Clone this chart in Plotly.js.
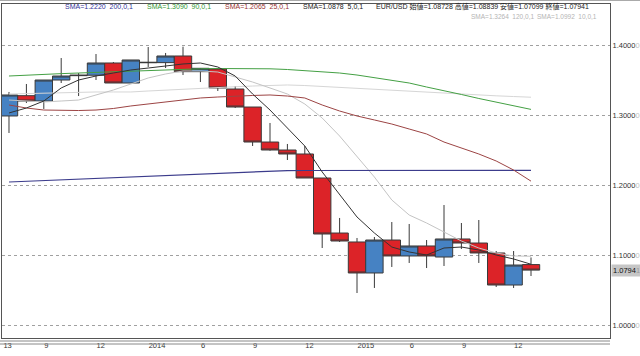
<!DOCTYPE html>
<html><head><meta charset="utf-8">
<script src="https://cdn.plot.ly/plotly-3.0.1.min.js"></script>
<style>html,body{margin:0;padding:0;background:#fff;}#chart{width:640px;height:356px;}</style>
</head><body><div id="chart"></div>
<script>
// Monthly EUR/USD candles (index 0 = 2013-07 ... 30 = 2016-01)
const months = ['2013-07','2013-08','2013-09','2013-10','2013-11','2013-12','2014-01','2014-02','2014-03','2014-04','2014-05','2014-06','2014-07','2014-08','2014-09','2014-10','2014-11','2014-12','2015-01','2015-02','2015-03','2015-04','2015-05','2015-06','2015-07','2015-08','2015-09','2015-10','2015-11','2015-12','2016-01'];
const openP  = [1.2996,1.3286,1.3210,1.3510,1.3572,1.3578,1.3753,1.3467,1.3764,1.3758,1.3853,1.3629,1.3667,1.3381,1.3124,1.2624,1.2510,1.2453,1.2110,1.1324,1.1196,1.0753,1.1224,1.0996,1.1139,1.0981,1.1239,1.1181,1.1039,1.0581,1.0873];
const highP  = [1.3339,1.3453,1.3510,1.3824,1.3610,1.3881,1.3767,1.3796,1.3981,1.3896,1.3986,1.3681,1.3681,1.3424,1.3124,1.2896,1.2596,1.2567,1.2110,1.1539,1.1253,1.1267,1.1481,1.1453,1.1224,1.1724,1.1467,1.1510,1.1067,1.1067,1.0975];
const lowP   = [1.2753,1.3181,1.3096,1.3467,1.3281,1.3510,1.3467,1.3467,1.3696,1.3681,1.3581,1.3481,1.3353,1.3110,1.2567,1.2500,1.2367,1.2110,1.1110,1.1196,1.0467,1.0539,1.0839,1.0896,1.0824,1.0853,1.1096,1.0896,1.0553,1.0539,1.0710];
const closeP = [1.3296,1.3210,1.3510,1.3567,1.3578,1.3753,1.3467,1.3796,1.3758,1.3853,1.3629,1.3677,1.3396,1.3124,1.2624,1.2510,1.2453,1.2110,1.1310,1.1210,1.0753,1.1224,1.0996,1.1139,1.0996,1.1239,1.1181,1.1039,1.0581,1.0867,1.0794];

const sma5   = [1.3039,1.3110,1.3210,1.3396,1.3510,1.3567,1.3610,1.3653,1.3681,1.3710,1.3739,1.3753,1.3696,1.3567,1.3310,1.3081,1.2824,1.2567,1.2196,1.1867,1.1553,1.1324,1.1124,1.1053,1.1010,1.1110,1.1124,1.1081,1.1010,1.0953,1.0878];
const sma10  = [1.3224,1.3210,1.3196,1.3210,1.3224,1.3296,1.3367,1.3453,1.3539,1.3596,1.3639,1.3639,1.3624,1.3553,1.3481,1.3396,1.3310,1.3167,1.2967,1.2710,1.2424,1.2124,1.1796,1.1581,1.1467,1.1339,1.1210,1.1110,1.1039,1.0996,1.0992];
const sma25  = [1.3153,1.3110,1.3081,1.3074,1.3074,1.3081,1.3103,1.3139,1.3167,1.3196,1.3224,1.3253,1.3267,1.3281,1.3289,1.3296,1.3281,1.3253,1.3153,1.3067,1.2996,1.2939,1.2881,1.2810,1.2739,1.2624,1.2539,1.2453,1.2353,1.2224,1.2065];
const sma90  = [1.3567,1.3581,1.3591,1.3601,1.3610,1.3620,1.3630,1.3639,1.3649,1.3656,1.3663,1.3670,1.3674,1.3674,1.3671,1.3670,1.3660,1.3646,1.3631,1.3610,1.3581,1.3546,1.3510,1.3467,1.3410,1.3360,1.3303,1.3246,1.3196,1.3139,1.3090];
const sma120 = [1.3310,1.3317,1.3324,1.3331,1.3339,1.3339,1.3339,1.3339,1.3353,1.3367,1.3381,1.3389,1.3403,1.3414,1.3424,1.3434,1.3439,1.3431,1.3417,1.3403,1.3389,1.3374,1.3360,1.3346,1.3331,1.3317,1.3303,1.3296,1.3284,1.3274,1.3264];
const sma200 = [1.2053,1.2063,1.2074,1.2084,1.2096,1.2106,1.2117,1.2127,1.2139,1.2149,1.2160,1.2170,1.2181,1.2191,1.2203,1.2210,1.2216,1.2217,1.2218,1.2218,1.2219,1.2219,1.2219,1.2220,1.2220,1.2220,1.2220,1.2220,1.2220,1.2220,1.2220];

const xTickPos  = [-0.35,2,5,8,11,14,17,20,23,26,29];
const xTickText = ['13','9','12','2014','6','9','12','2015','6','9','12'];
const yTickVals = [1.0,1.1,1.2,1.3,1.4];
const yTickText = ['1.0000','1.1000','1.2000','1.3000','1.4000'];

const legendRow1 = [
  {text:'SMA=1.2220\u00a0\u00a0200,0,1', color:'#333399', px:63},
  {text:'SMA=1.3090\u00a0\u00a090,0,1', color:'#339933', px:145},
  {text:'SMA=1.2065\u00a0\u00a025,0,1', color:'#993333', px:223},
  {text:'SMA=1.0878\u00a0\u00a05,0,1', color:'#222222', px:301},
  {text:'EUR/USD\u00a0始値=1.08728\u00a0高値=1.08839\u00a0安値=1.07099\u00a0終値=1.07941', color:'#222222', px:374}
];
// row 2 items are placed by their right edge
const legendRow2 = [
  {text:'SMA=1.3264\u00a0\u00a0120,0,1', color:'#b4b4b4', pxRight:536},
  {text:'SMA=1.0992\u00a0\u00a010,0,1', color:'#b4b4b4', pxRight:599}
];
const lastPrice = 1.07941;
const lastPriceText = '1.0794';

const idx = months.map((m,i)=>i);
const FONT = 'Liberation Sans, Arial, Noto Sans CJK JP, sans-serif';

const traces = [
  {type:'candlestick', x:idx, open:openP, high:highP, low:lowP, close:closeP, text:months,
   increasing:{fillcolor:'#4682c3', line:{color:'#3a3a3a', width:1}},
   decreasing:{fillcolor:'#dc2328', line:{color:'#3a3a3a', width:1}},
   whiskerwidth:0, hoverinfo:'x+text'},
  {type:'scatter', mode:'lines', x:idx, y:sma120, line:{color:'#d6d6d6', width:1}, hoverinfo:'skip'},
  {type:'scatter', mode:'lines', x:idx, y:sma10, line:{color:'#c4c4c4', width:1}, hoverinfo:'skip'},
  {type:'scatter', mode:'lines', x:idx, y:sma200, line:{color:'#3c3c8c', width:1.2}, hoverinfo:'skip'},
  {type:'scatter', mode:'lines', x:idx, y:sma90, line:{color:'#44a044', width:1}, hoverinfo:'skip'},
  {type:'scatter', mode:'lines', x:idx, y:sma25, line:{color:'#9c4444', width:1}, hoverinfo:'skip'},
  {type:'scatter', mode:'lines', x:idx, y:sma5, line:{color:'#333333', width:1}, hoverinfo:'skip'}
];

const plotL = 2, plotR = 610, plotT = 4, plotB = 338;
const px2paperX = p => (p - plotL) / (plotR - plotL);
const py2paperY = p => (plotB - p) / (plotB - plotT);

const annotations = [];
legendRow1.forEach(o => annotations.push({xref:'paper', yref:'paper', x:px2paperX(o.px), y:py2paperY(6.5), xanchor:'left', yanchor:'middle', showarrow:false, text:o.text, font:{family:FONT, size:7, color:o.color}}));
legendRow2.forEach(o => annotations.push({xref:'paper', yref:'paper', x:px2paperX(o.pxRight), y:py2paperY(16.5), xanchor:'right', yanchor:'middle', showarrow:false, text:o.text, font:{family:FONT, size:6.5, color:o.color}}));
annotations.push({xref:'paper', yref:'y', x:1, xshift:1, y:lastPrice, xanchor:'left', yanchor:'middle', showarrow:false,
  text:lastPriceText + '<span style="color:#9a9a9a">1</span>', bgcolor:'#c6c6c6', borderpad:1, font:{family:FONT, size:7.5, color:'#111'}});

const shapes = [
  {type:'line', xref:'paper', yref:'paper', x0:px2paperX(0), x1:px2paperX(640), y0:py2paperY(0.5), y1:py2paperY(0.5), line:{color:'#aaaaaa', width:1}},
  {type:'line', xref:'paper', yref:'paper', x0:px2paperX(0), x1:1, y0:py2paperY(341), y1:py2paperY(341), line:{color:'#888888', width:1}},
  {type:'line', xref:'paper', yref:'paper', x0:px2paperX(0), x1:1, y0:py2paperY(344), y1:py2paperY(344), line:{color:'#888888', width:1}}
];

const layout = {
  width:640, height:356, margin:{l:plotL, r:640-plotR, t:plotT, b:356-plotB, pad:0},
  paper_bgcolor:'#ffffff', plot_bgcolor:'#ffffff', showlegend:false, boxgap:0, boxgroupgap:0,
  xaxis:{range:[-0.402,34.54], tickmode:'array', tickvals:xTickPos, ticktext:xTickText,
    ticklabelposition:'outside right', showgrid:false, zeroline:false, showline:true, mirror:true,
    linecolor:'#555555', linewidth:1, ticks:'', rangeslider:{visible:false}, fixedrange:true,
    tickfont:{family:FONT, size:7.5, color:'#333'}},
  yaxis:{side:'right', range:[0.98243,1.45957], tickmode:'array', tickvals:yTickVals,
    ticktext:yTickText.map(t => t + '<span style="color:#c0c0c0">0</span>'),
    showgrid:true, gridcolor:'#a0a0a0', griddash:'dot', gridwidth:1, zeroline:false,
    showline:true, mirror:true, linecolor:'#555555', linewidth:1, ticks:'', fixedrange:true,
    tickfont:{family:FONT, size:7.5, color:'#333'}},
  annotations:annotations, shapes:shapes
};

Plotly.newPlot('chart', traces, layout, {displayModeBar:false, staticPlot:true});
</script>
</body></html>
